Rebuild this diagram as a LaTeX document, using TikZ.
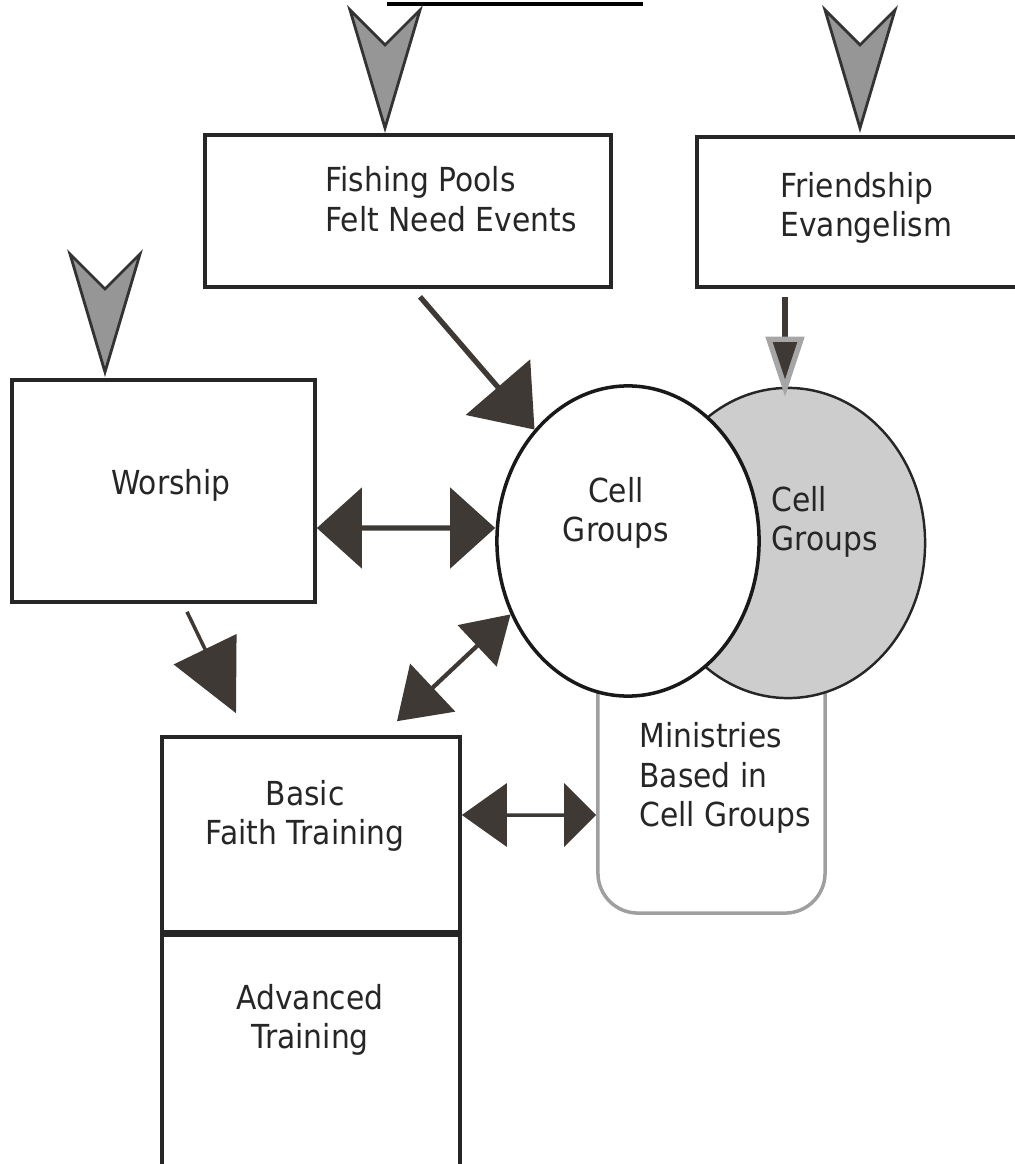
\documentclass[tikz,border=0pt]{standalone}
\usepackage{fontspec}
\setmainfont{DejaVu Sans}[FakeStretch=0.9]
\usetikzlibrary{arrows.meta,calc,shapes.geometric}
\definecolor{headdark}{RGB}{62,57,52}
\definecolor{chevgray}{RGB}{150,150,150}
\definecolor{cellgray}{RGB}{205,205,205}
\begin{document}
\begin{tikzpicture}[x=0.01cm,y=-0.01cm,
    box/.style={draw=black!85,line width=1pt,inner sep=0pt},
    txt/.style={align=center,font=\fontsize{9.4}{11.2}\selectfont,text=black!85},
    chev/.style={fill=chevgray,draw=black!80,line width=0.8pt},
    fat/.style={draw=headdark,line width=1.5pt},
    slim/.style={draw=headdark,line width=1pt}]
        \useasboundingbox (0,0) rectangle (1014,1164);
        \draw[line width=1.2pt] (387,4) -- (643,4); % title rule
        % boxes
        \node[box,minimum width=4.06cm,minimum height=1.52cm] (fish) at (408,211) {};
        \node[txt,align=left,anchor=west] (fishtxt) at (313,199) {Fishing Pools\\Felt Need Events};
        \node[box,minimum width=3.26cm,minimum height=1.50cm] (friend) at (860,212) {};
        \node[txt,align=left,anchor=west] (friendtxt) at (768,208) {Friendship\\Evangelism};
        \node[box,minimum width=3.03cm,minimum height=2.22cm] (worship) at (163.5,491) {};
        \node[txt] (worshiptxt) at (171,485) {Worship};
        \node[box,minimum width=2.98cm,minimum height=1.95cm] (basic) at (311,834.5) {};
        \node[box,minimum width=2.98cm,minimum height=2.6cm,anchor=north] (adv) at (basic.south) {};
        \node[txt] (basictxt) at (305,816) {Basic\\Faith Training};
        \node[txt] (advtxt) at (310,1020) {Advanced\\Training};
        % ministries and cells
        \node[draw=gray!75,line width=1pt,rounded corners=0.4cm,minimum width=2.27cm,minimum height=3.13cm] (minis) at (711.5,756.5) {};
        \node[ellipse,draw=black!85,line width=0.7pt,fill=cellgray,inner sep=0pt,minimum width=2.74cm,minimum height=3.10cm] (cellG) at (788,543) {};
        \node[ellipse,draw=black!90,line width=1pt,fill=white,inner sep=0pt,minimum width=2.62cm,minimum height=3.10cm] (cellW) at (628,541) {};
        \node[txt] (cellWtxt) at (616,513) {Cell\\Groups};
        \node[txt,align=left,anchor=west] (cellGtxt) at (759,522) {Cell\\Groups};
        \node[txt,align=left] (minitxt) at (725,778) {Ministries\\Based in\\Cell Groups};
        % chevrons
        \foreach \cx/\cy in {385/128,860/128,105/372}
        \draw[chev,shift={(\cx,\cy)}] (-35,-118) -- (0,-83) -- (35,-118) -- (0,0) -- cycle;
        % arrows
        \draw[fat,-{Triangle[length=0.56cm,width=0.84cm]}] ($(fish.south)+(12,8)$) -- (cellW.130);
        \draw[fat,-{Triangle[length=0.6cm,width=0.38cm,color=gray!70,fill=headdark,line width=1.5pt]}] ($(friend.south)+(-75,8)$) -- ($(cellG.north)+(-3,10)$);
        \draw[fat,{Triangle[length=0.45cm,width=0.8cm]}-{Triangle[length=0.45cm,width=0.8cm]}] ([yshift=-0.37cm]worship.east) -- ([yshift=0.13cm]cellW.west);
        \draw[slim,-{Triangle[length=0.71cm,width=0.69cm]}] ($(worship.south)+(23.5,8)$) -- ($(basic.north)+(-75,-22)$);
        \draw[slim,line width=1.2pt,{Triangle[length=0.49cm,width=0.65cm]}-{Triangle[length=0.46cm,width=0.56cm]}] ($(basic.north)+(86,-14)$) -- (cellW.212);
        \draw[slim,{Triangle[length=0.45cm,width=0.63cm]}-{Triangle[length=0.32cm,width=0.63cm]}] ([yshift=0.195cm]basic.east) -- ([yshift=-0.585cm]minis.west);
\end{tikzpicture}
\end{document}
